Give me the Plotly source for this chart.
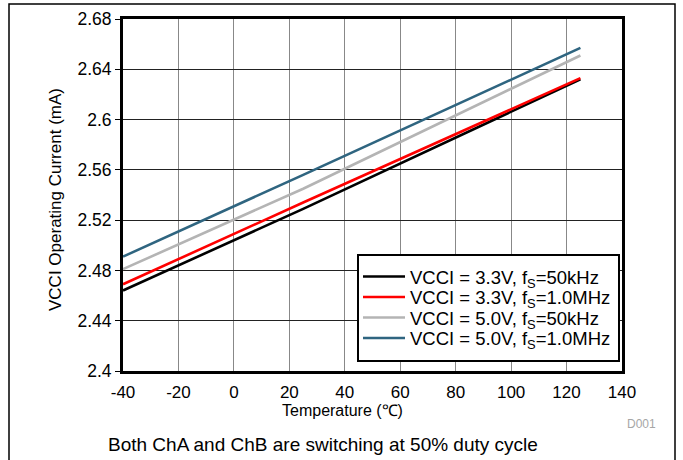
import plotly.graph_objects as go

temps = [-40, 25, 125]
series_names = [
    "VCCI = 3.3V, f<sub>S</sub>=50kHz",
    "VCCI = 3.3V, f<sub>S</sub>=1.0MHz",
    "VCCI = 5.0V, f<sub>S</sub>=50kHz",
    "VCCI = 5.0V, f<sub>S</sub>=1.0MHz",
]
i_33_50k = [2.464, 2.529, 2.632]
i_33_1m = [2.469, 2.534, 2.633]
i_50_50k = [2.481, 2.545, 2.651]
i_50_1m = [2.491, 2.556, 2.657]
series_values = [i_33_50k, i_33_1m, i_50_50k, i_50_1m]
colors = ["#000000", "#ff0000", "#b4b4b4", "#2f6580"]

x_ticks = [-40, -20, 0, 20, 40, 60, 80, 100, 120, 140]
x_ticktext = ["-40", "-20", "0", "20", "40", "60", "80", "100", "120", "140"]
x_major = [-40, 0, 40, 80, 120]
y_ticks = [2.4, 2.44, 2.48, 2.52, 2.56, 2.6, 2.64, 2.68]
y_ticktext = ["2.4", "2.44", "2.48", "2.52", "2.56", "2.6", "2.64", "2.68"]

FONT = "Liberation Sans, Arial, sans-serif"

L, R, T, B = 123, 61, 19, 89
W, H = 683, 460
pw = W - L - R
ph = H - T - B

def px(x):
    return (x - L) / pw

def py(y):
    return (H - B - y) / ph

legend_ids = ["legend", "legend2", "legend3", "legend4"]
legend_rows = [277, 297.5, 318, 338.5]

fig = go.Figure()
for name, vals, c, lid in zip(series_names, series_values, colors, legend_ids):
    fig.add_trace(go.Scatter(x=temps, y=vals, mode="lines", name=name,
                             line=dict(color=c, width=2.6), legend=lid))

legend_layout = {}
for lid, row in zip(legend_ids, legend_rows):
    legend_layout[lid] = dict(x=px(358), y=py(row), xanchor="left",
                              yanchor="middle", bgcolor="rgba(0,0,0,0)",
                              borderwidth=0, font=dict(size=18.5),
                              itemwidth=42)

fig.update_layout(
    width=W, height=H,
    margin=dict(l=L, r=R, t=T, b=B, pad=0),
    paper_bgcolor="white", plot_bgcolor="white",
    font=dict(family=FONT, size=17, color="black"),
    showlegend=True,
    **legend_layout,
    xaxis=dict(range=[-40, 140], tickvals=x_ticks, ticktext=x_ticktext,
               showgrid=True, gridcolor="#888888", gridwidth=1.4,
               zeroline=False, showline=True, linecolor="black", linewidth=3,
               mirror=True, ticks="", ticklabelstandoff=4,
               automargin=False,
               tickfont=dict(size=17),
               minor=dict(tickvals=x_major, showgrid=True, gridcolor="black",
                          gridwidth=1.2, ticks="")),
    yaxis=dict(range=[2.4, 2.68], tickvals=y_ticks, ticktext=y_ticktext,
               showgrid=True, gridcolor="#222222", gridwidth=1.2,
               zeroline=False, showline=True, linecolor="black", linewidth=3,
               mirror=True, ticks="outside", ticklen=5, tickwidth=1,
               tickcolor="black", tickfont=dict(size=17.5), automargin=False),
    annotations=[
        dict(text="Temperature (℃)", xref="paper", yref="paper",
             x=px(342), y=py(411), xanchor="center", yanchor="middle",
             showarrow=False, font=dict(size=16)),
        dict(text="VCCI Operating Current (mA)", xref="paper", yref="paper",
             x=px(55), y=py(200), xanchor="center", yanchor="middle",
             textangle=-90, showarrow=False, font=dict(size=17)),
        dict(text="D001", xref="paper", yref="paper",
             x=px(658), y=py(424), xanchor="right", yanchor="middle",
             showarrow=False, font=dict(size=12, color="#a6a6a6")),
        dict(text="Both ChA and ChB are switching at 50% duty cycle",
             xref="paper", yref="paper", x=px(106), y=py(444),
             xanchor="left", yanchor="middle", showarrow=False,
             font=dict(size=19)),
    ],
    shapes=[
        dict(type="rect", xref="paper", yref="paper",
             x0=px(9), x1=px(675), y0=py(470), y1=py(4),
             line=dict(color="black", width=1.5), fillcolor="rgba(0,0,0,0)",
             layer="below"),
        dict(type="rect", xref="paper", yref="paper",
             x0=px(358), x1=px(619), y0=py(361), y1=py(255),
             line=dict(color="black", width=2), fillcolor="white",
             layer="above"),
    ],
)

fig.write_html("out.html", config={"displayModeBar": False},
               post_script="document.body.style.margin='0';document.body.style.overflow='hidden';")
